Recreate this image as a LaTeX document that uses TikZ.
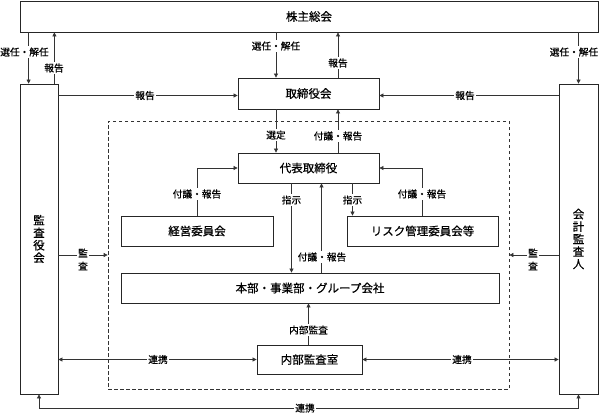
\documentclass[tikz,border=0pt]{standalone}
\usepackage{fontspec}
\setmainfont[FakeBold=0.6]{Noto Sans CJK JP}
\usetikzlibrary{arrows.meta,calc}
\begin{document}
\begin{tikzpicture}[x=1pt,y=-1pt,
  box/.style={draw=black!85,line width=0.8pt,fill=white,inner sep=0pt,font=\fontsize{11.5}{12.5}\selectfont},
  lbl/.style={fill=white,inner sep=1.2pt,font=\fontsize{9.7}{10}\selectfont},
  vlbl/.style={fill=white,inner sep=1.2pt,align=center,font=\fontsize{9.7}{13}\selectfont},
  con/.style={draw=black!80,line width=0.7pt},
  arr/.style={con,-{Triangle[length=4pt,width=4pt]}},
  darr/.style={con,{Triangle[length=4pt,width=4pt]}-{Triangle[length=4pt,width=4pt]}},
  scopebox/.style={draw=black!80,line width=0.7pt,dash pattern=on 3.5pt off 2.5pt,inner sep=0pt}
]
\useasboundingbox (0,0) rectangle (599,415);

% dashed scope
\node[scopebox,minimum width=401,minimum height=268] (scope) at (308.5,255) {};

% boxes
\node[box,minimum width=578,minimum height=31] (gm) at (309,16.5) {株主総会};
\node[box,minimum width=38,minimum height=310,align=center] (kansa) at (39,239) {監\\査\\役\\会};
\node[box,minimum width=39,minimum height=310,align=center] (kaikei) at (578.5,239) {会\\計\\監\\査\\人};
\node[box,minimum width=141,minimum height=31] (board) at (308.5,93.5) {取締役会};
\node[box,minimum width=141,minimum height=30] (ceo) at (308.5,168) {代表取締役};
\node[box,minimum width=152,minimum height=30] (keiei) at (197,231) {経営委員会};
\node[box,minimum width=151,minimum height=30] (risk) at (422.5,231) {リスク管理委員会等};
\node[box,minimum width=378,minimum height=30] (honbu) at (310,288) {本部・事業部・グループ会社};
\node[box,minimum width=105,minimum height=29] (naibu) at (309.5,359.5) {内部監査室};

% shareholders meeting connectors
\draw[arr] ([xshift=9pt]kansa.north west |- gm.south) -- ([xshift=9pt]kansa.north west);
\draw[arr] ([xshift=-4pt]kansa.north east) -- ([xshift=-4pt]kansa.north east |- gm.south);
\draw[arr] ([xshift=-32.5pt]board.north |- gm.south) -- ([xshift=-32.5pt]board.north);
\draw[arr] ([xshift=29.5pt]board.north) -- ([xshift=29.5pt]board.north |- gm.south);
\draw[arr] (kaikei.north |- gm.south) -- (kaikei.north);

% reports to board
\coordinate (bw) at ([yshift=-2pt]board.west);
\coordinate (be) at ([yshift=-2pt]board.east);
\draw[arr] (kansa.east |- bw) -- (bw);
\draw[arr] (kaikei.west |- be) -- (be);

% board <-> ceo
\draw[arr] ([xshift=-32.5pt]board.south) -- ([xshift=-32.5pt]ceo.north);
\draw[arr] ([xshift=29.5pt]ceo.north) -- ([xshift=29.5pt]board.south);

% committees
\draw[arr] (keiei.north) |- (ceo.west);
\draw[arr] (risk.north) |- (ceo.east);
\draw[arr] ([xshift=44pt]ceo.south) -- ([xshift=44pt]ceo.south |- risk.north);
\draw[arr] ([xshift=-17pt]ceo.south) -- ([xshift=-17pt]ceo.south |- honbu.north);
\draw[arr] ([xshift=13pt]ceo.south |- honbu.north) -- ([xshift=13pt]ceo.south);

% internal audit
\draw[arr] ([xshift=-1pt]naibu.north) -- ([xshift=-1pt]naibu.north |- honbu.south);
\draw[darr] (kansa.east |- naibu.west) -- (naibu.west);
\draw[darr] (naibu.east) -- (kaikei.west |- naibu.east);
\draw[darr] (kansa.south) -- ++(0,14) -| (kaikei.south);

% audits
\coordinate (sl) at ([yshift=-16pt]kansa.east);
\draw[arr] (sl) -- (scope.west |- sl);
\draw[arr] (kaikei.west |- sl) -- (scope.east |- sl);

% labels
\node[lbl] (l1) at (24.5,52) {選任・解任};
\node[lbl] (l2) at (54,68) {報告};
\node[lbl] (l3) at (276,46) {選任・解任};
\node[lbl] (l4) at (338,63) {報告};
\node[lbl] (l5) at (574,52) {選任・解任};
\node[lbl] (l6) at (145,95.5) {報告};
\node[lbl] (l7) at (465,95.5) {報告};
\node[lbl] (l8) at (276,135) {選定};
\node[lbl] (l9) at (338,136) {付議・報告};
\node[lbl] (l10) at (197,194) {付議・報告};
\node[lbl] (l11) at (422,194) {付議・報告};
\node[lbl] (l12) at (352.5,200) {指示};
\node[lbl] (l13) at (291.5,200) {指示};
\node[lbl] (l14) at (322,257) {付議・報告};
\node[lbl] (l15) at (308.5,330) {内部監査};
\node[lbl] (l16) at (158,359.5) {連携};
\node[lbl] (l17) at (462,359.5) {連携};
\node[lbl] (l18) at (305,408) {連携};
\node[vlbl] (l19) at (83,259.5) {監\\査};
\node[vlbl] (l20) at (533,259.5) {監\\査};
\end{tikzpicture}
\end{document}
